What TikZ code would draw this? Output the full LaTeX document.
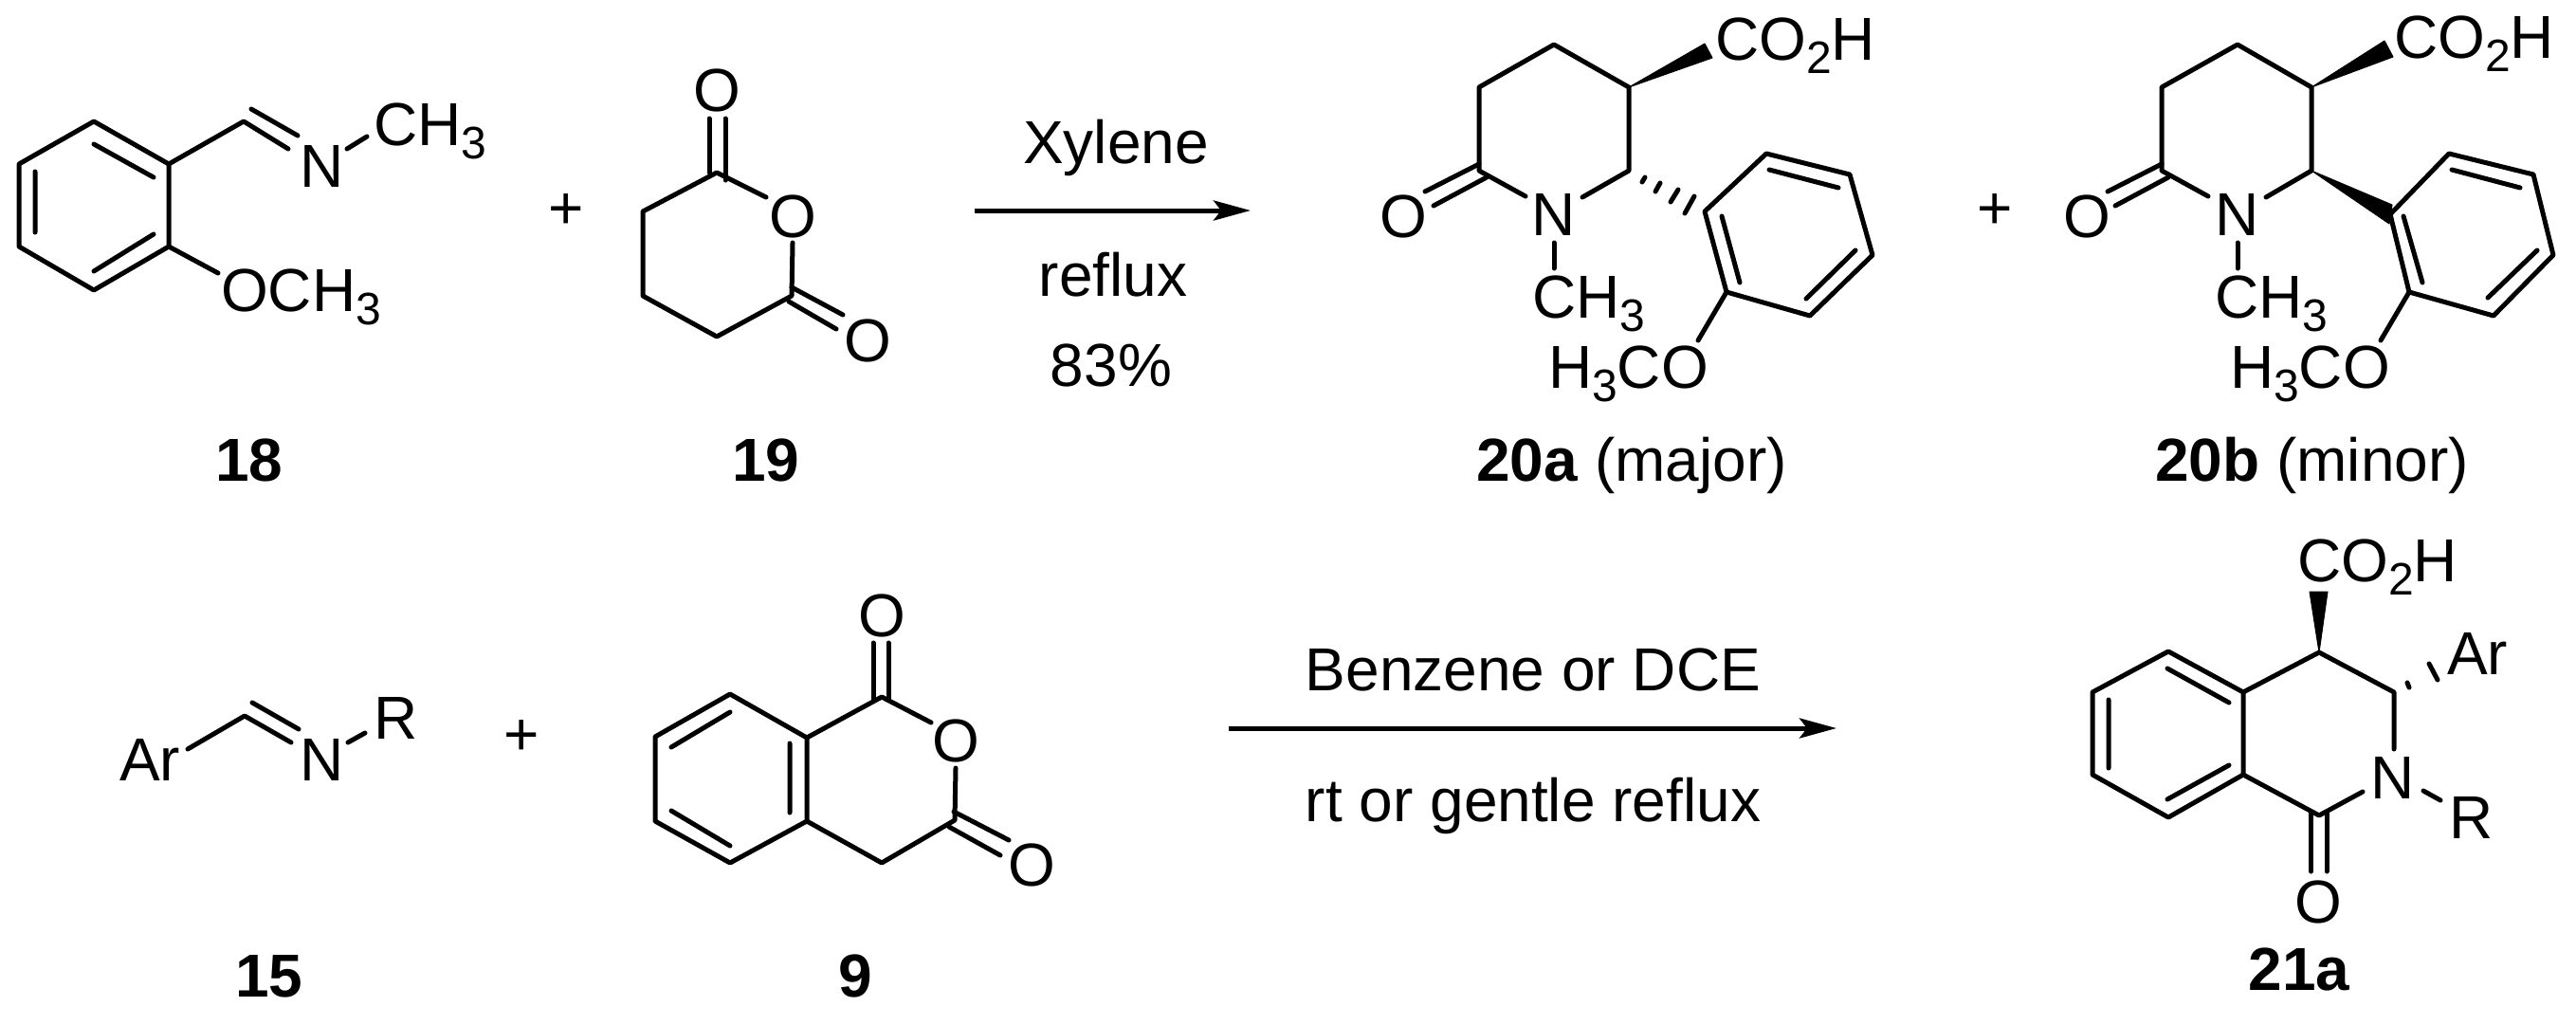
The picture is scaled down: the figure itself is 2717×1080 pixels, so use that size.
\documentclass[tikz,border=0pt]{standalone}
\usepackage{fontspec}
\setmainfont{Liberation Sans}
\usetikzlibrary{arrows.meta}
\newcommand{\subn}[1]{\raisebox{-14pt}{\fontsize{48}{48}\selectfont #1}}
\tikzset{
  bond/.style={line width=5pt,line cap=round,line join=round},
  hashb/.style={line width=5pt,line cap=round},
  wedgeb/.style={fill=black,draw=black,line width=1pt,line join=round},
  txt/.style={inner sep=0pt,outer sep=0pt,anchor=base west,font=\fontsize{64}{66}\selectfont},
  ctr/.style={inner sep=0pt,outer sep=0pt,anchor=base,font=\fontsize{64}{66}\selectfont},
  cmpd/.style={inner sep=0pt,outer sep=0pt,anchor=base,font=\fontsize{64}{66}\selectfont\bfseries},
  rxn/.style={line width=5pt,-{Stealth[length=39pt,width=21pt,inset=8pt]}}
}
\begin{document}
\begin{tikzpicture}[x=1pt,y=-1pt]
\useasboundingbox (0,0) rectangle (2717,1080);

% ===== 18 =====
\coordinate (a1) at (99,128); \coordinate (a2) at (178,173); \coordinate (a3) at (178,260);
\coordinate (a4) at (99,306); \coordinate (a5) at (20,260); \coordinate (a6) at (20,173);
\coordinate (a1i) at (99,152); \coordinate (a2i) at (162,187);
\coordinate (a3i) at (162,247); \coordinate (a4i) at (99,286);
\coordinate (a5i) at (37,245); \coordinate (a6i) at (37,181);
\draw[bond] (a1)--(a2)--(a3)--(a4)--(a5)--(a6)--cycle;
\draw[bond] (a1i)--(a2i) (a3i)--(a4i) (a5i)--(a6i);
\coordinate (ac) at (257,128); \coordinate (an) at (304,157);
\coordinate (ac2) at (265,115); \coordinate (an2) at (314,143);
\draw[bond] (a2)--(ac)--(an) (ac2)--(an2);
\node[txt] (aN) at (316,197) {N};
\node[txt] (aMe) at (394,153) {CH\subn{3}};
\coordinate (an3) at (366,157); \coordinate (ame) at (387,144);
\draw[bond] (an3)--(ame);
\coordinate (aob) at (230,288);
\draw[bond] (a3)--(aob);
\node[txt] (aOMe) at (233,328) {OCH\subn{3}};
\node[cmpd] (l18) at (263,507) {18};

% ===== plus 1 =====
\node[ctr] (p1) at (597,241) {+};

% ===== 19 =====
\coordinate (b1) at (756,182); \coordinate (b2) at (808,208); \coordinate (b3) at (836,256);
\coordinate (b4) at (835,312); \coordinate (b5) at (756,355); \coordinate (b6) at (678,312);
\coordinate (b7) at (678,223);
\draw[bond] (b2)--(b1)--(b7)--(b6)--(b5)--(b4)--(b3);
\node[ctr] (bOr) at (836,250) {O};
\node[ctr] (bOt) at (756,117) {O};
\node[ctr] (bOb) at (915,381) {O};
\coordinate (b1a) at (748,125); \coordinate (b1b) at (748,182);
\coordinate (b1c) at (765,125); \coordinate (b1d) at (765,190);
\draw[bond] (b1a)--(b1b) (b1c)--(b1d);
\coordinate (b4a) at (835,303); \coordinate (b4b) at (889,332);
\coordinate (b4c) at (832,318); \coordinate (b4d) at (882,347);
\draw[bond] (b4a)--(b4b) (b4c)--(b4d);
\node[cmpd] (l19) at (808,507) {19};

% ===== arrow 1 =====
\coordinate (r1s) at (1028,222); \coordinate (r1e) at (1319,222);
\draw[rxn] (r1s)--(r1e);
\node[ctr] (t1) at (1177,172) {Xylene};
\node[ctr] (t2) at (1174,312) {reflux};
\node[ctr] (t3) at (1172,407) {83\%};

% ===== 20a =====
\coordinate (c1) at (1639,47); \coordinate (c2) at (1718,92); \coordinate (c3) at (1718,180);
\coordinate (c4) at (1669,208); \coordinate (c5) at (1609,207); \coordinate (c6) at (1560,180);
\coordinate (c7) at (1560,92);
\draw[bond] (c4)--(c3)--(c2)--(c1)--(c7)--(c6)--(c5);
\node[ctr] (cN) at (1639,248) {N};
\node[ctr] (cO) at (1480,250) {O};
\coordinate (co1) at (1560,173); \coordinate (co2) at (1503,202);
\coordinate (co3) at (1568,187); \coordinate (co4) at (1512,217);
\draw[bond] (co1)--(co2) (co3)--(co4);
\coordinate (cw1) at (1798,46); \coordinate (cw2) at (1806,61);
\filldraw[wedgeb] (c2)--(cw1)--(cw2)--cycle;
\node[txt] (cCO) at (1809,63) {CO\subn{2}H};
\coordinate (cm1) at (1639,256); \coordinate (cm2) at (1639,283);
\draw[bond] (cm1)--(cm2);
\node[txt] (cMe) at (1616,335) {CH\subn{3}};
\coordinate (ch1a) at (1735,187); \coordinate (ch1b) at (1732,192);
\coordinate (ch2a) at (1751,193); \coordinate (ch2b) at (1746,202);
\coordinate (ch3a) at (1770,200); \coordinate (ch3b) at (1762,213);
\coordinate (ch4a) at (1787,207); \coordinate (ch4b) at (1777,225);
\draw[hashb] (ch1a)--(ch1b) (ch2a)--(ch2b) (ch3a)--(ch3b) (ch4a)--(ch4b);
\coordinate (d1) at (1798,223); \coordinate (d2) at (1863,162); \coordinate (d3) at (1951,184);
\coordinate (d4) at (1975,269); \coordinate (d5) at (1909,333); \coordinate (d6) at (1821,308);
\draw[bond] (d1)--(d2)--(d3)--(d4)--(d5)--(d6)--cycle;
\coordinate (d2i) at (1866,179); \coordinate (d3i) at (1939,198);
\coordinate (d1i) at (1816,228); \coordinate (d6i) at (1835,298);
\coordinate (d4i) at (1957,264); \coordinate (d5i) at (1905,315);
\draw[bond] (d2i)--(d3i) (d1i)--(d6i) (d4i)--(d5i);
\coordinate (do) at (1791,359);
\draw[bond] (d6)--(do);
\node[txt] (cOMe) at (1633,409) {H\subn{3}CO};
\node[inner sep=0pt,anchor=base west,font=\fontsize{64}{66}\selectfont] (l20a) at (1557,507) {\textbf{20a} (major)};

% ===== plus 2 =====
\node[ctr] (p2) at (2104,241) {+};

% ===== 20b =====
\coordinate (e1) at (2360,47); \coordinate (e2) at (2438,92); \coordinate (e3) at (2438,180);
\coordinate (e4) at (2390,208); \coordinate (e5) at (2329,207); \coordinate (e6) at (2280,180);
\coordinate (e7) at (2280,92);
\draw[bond] (e4)--(e3)--(e2)--(e1)--(e7)--(e6)--(e5);
\node[ctr] (eN) at (2360,248) {N};
\node[ctr] (eO) at (2201,250) {O};
\coordinate (eo1) at (2280,173); \coordinate (eo2) at (2223,202);
\coordinate (eo3) at (2287,187); \coordinate (eo4) at (2231,217);
\draw[bond] (eo1)--(eo2) (eo3)--(eo4);
\coordinate (ew1) at (2515,43); \coordinate (ew2) at (2524,60);
\filldraw[wedgeb] (e2)--(ew1)--(ew2)--cycle;
\node[txt] (eCO) at (2525,61) {CO\subn{2}H};
\coordinate (em1) at (2360,256); \coordinate (em2) at (2360,283);
\draw[bond] (em1)--(em2);
\node[txt] (eMe) at (2336,335) {CH\subn{3}};
\coordinate (ew3) at (2523,216); \coordinate (ew4) at (2520,236);
\filldraw[wedgeb] (e3)--(ew3)--(ew4)--cycle;
\coordinate (f1) at (2521,226); \coordinate (f2) at (2583,162); \coordinate (f3) at (2672,184);
\coordinate (f4) at (2693,269); \coordinate (f5) at (2630,333); \coordinate (f6) at (2541,308);
\draw[bond] (f1)--(f2)--(f3)--(f4)--(f5)--(f6)--cycle;
\coordinate (f2i) at (2586,179); \coordinate (f3i) at (2658,198);
\coordinate (f1i) at (2535,228); \coordinate (f6i) at (2555,298);
\coordinate (f4i) at (2676,264); \coordinate (f5i) at (2624,314);
\draw[bond] (f2i)--(f3i) (f1i)--(f6i) (f4i)--(f5i);
\coordinate (fo) at (2511,359);
\draw[bond] (f6)--(fo);
\node[txt] (eOMe) at (2352,409) {H\subn{3}CO};
\node[inner sep=0pt,anchor=base west,font=\fontsize{64}{66}\selectfont] (l20b) at (2273,507) {\textbf{20b} (minor)};

% ===== 15 =====
\node[txt] (gAr) at (126,823) {Ar};
\coordinate (g1) at (198,790); \coordinate (g2) at (258,755); \coordinate (g3) at (307,783);
\coordinate (g4) at (266,741); \coordinate (g5) at (315,769);
\draw[bond] (g1)--(g2)--(g3) (g4)--(g5);
\node[txt] (gN) at (316,823) {N};
\coordinate (g6) at (367,783); \coordinate (g7) at (385,773);
\draw[bond] (g6)--(g7);
\node[txt] (gR) at (394,779) {R};
\node[cmpd] (l15) at (284,1051) {15};

% ===== plus 3 =====
\node[ctr] (p3) at (550,796) {+};

% ===== 9 =====
\coordinate (h1) at (770,732); \coordinate (h2) at (851,778); \coordinate (h3) at (851,866);
\coordinate (h4) at (770,910); \coordinate (h5) at (691,866); \coordinate (h6) at (691,777);
\draw[bond] (h1)--(h2)--(h3)--(h4)--(h5)--(h6)--cycle;
\coordinate (h1i) at (770,751); \coordinate (h6i) at (708,788);
\coordinate (h2i) at (833,784); \coordinate (h3i) at (833,857);
\coordinate (h4i) at (770,892); \coordinate (h5i) at (708,855);
\draw[bond] (h1i)--(h6i) (h2i)--(h3i) (h4i)--(h5i);
\coordinate (h7) at (930,735); \coordinate (h8) at (982,762); \coordinate (h9) at (1008,810);
\coordinate (h10) at (1007,865); \coordinate (h11) at (930,910);
\draw[bond] (h2)--(h7)--(h8) (h9)--(h10)--(h11)--(h3);
\node[ctr] (hOr) at (1008,803) {O};
\node[ctr] (hOt) at (930,671) {O};
\node[ctr] (hOb) at (1088,934) {O};
\coordinate (h7a) at (921,678); \coordinate (h7b) at (921,738);
\coordinate (h7c) at (937,678); \coordinate (h7d) at (937,738);
\draw[bond] (h7a)--(h7b) (h7c)--(h7d);
\coordinate (h10a) at (1006,856); \coordinate (h10b) at (1064,886);
\coordinate (h10c) at (1001,872); \coordinate (h10d) at (1055,902);
\draw[bond] (h10a)--(h10b) (h10c)--(h10d);
\node[cmpd] (l9) at (902,1051) {9};

% ===== arrow 2 =====
\coordinate (r2s) at (1296,768); \coordinate (r2e) at (1937,768);
\draw[rxn] (r2s)--(r2e);
\node[ctr] (t4) at (1617,728) {Benzene or DCE};
\node[ctr] (t5) at (1617,866) {rt or gentle reflux};

% ===== 21a =====
\coordinate (k1) at (2287,687); \coordinate (k2) at (2366,730); \coordinate (k3) at (2366,817);
\coordinate (k4) at (2287,862); \coordinate (k5) at (2207,817); \coordinate (k6) at (2207,730);
\draw[bond] (k1)--(k2)--(k3)--(k4)--(k5)--(k6)--cycle;
\coordinate (k1i) at (2286,705); \coordinate (k2i) at (2351,741);
\coordinate (k3i) at (2351,807); \coordinate (k4i) at (2286,843);
\coordinate (k5i) at (2224,810); \coordinate (k6i) at (2224,738);
\draw[bond] (k1i)--(k2i) (k3i)--(k4i) (k5i)--(k6i);
\coordinate (k7) at (2446,688); \coordinate (k8) at (2525,730); \coordinate (k9) at (2525,790);
\coordinate (k10) at (2492,835); \coordinate (k11) at (2446,860);
\draw[bond] (k2)--(k7)--(k8)--(k9) (k10)--(k11)--(k3);
\node[ctr] (kN) at (2524,842) {N};
\coordinate (k12) at (2556,834); \coordinate (k13) at (2574,844);
\draw[bond] (k12)--(k13);
\node[txt] (kR) at (2583,884) {R};
\coordinate (k14) at (2437.5,858); \coordinate (k15) at (2437.5,919);
\coordinate (k16) at (2454,858); \coordinate (k17) at (2454,919);
\draw[bond] (k14)--(k15) (k16)--(k17);
\node[ctr] (kO) at (2445,973) {O};
\coordinate (kw1) at (2436,624); \coordinate (kw2) at (2455,624);
\filldraw[wedgeb] (k7)--(kw1)--(kw2)--cycle;
\node[txt] (kCO) at (2423,613) {CO\subn{2}H};
\coordinate (kh1) at (2539,720); \coordinate (kh2) at (2541,725);
\coordinate (kh3) at (2562,700); \coordinate (kh4) at (2571,717);
\draw[hashb] (kh1)--(kh2) (kh3)--(kh4);
\node[txt] (kAr) at (2581,711) {Ar};
\node[cmpd] (l21) at (2425,1044) {21a};
\end{tikzpicture}
\end{document}
